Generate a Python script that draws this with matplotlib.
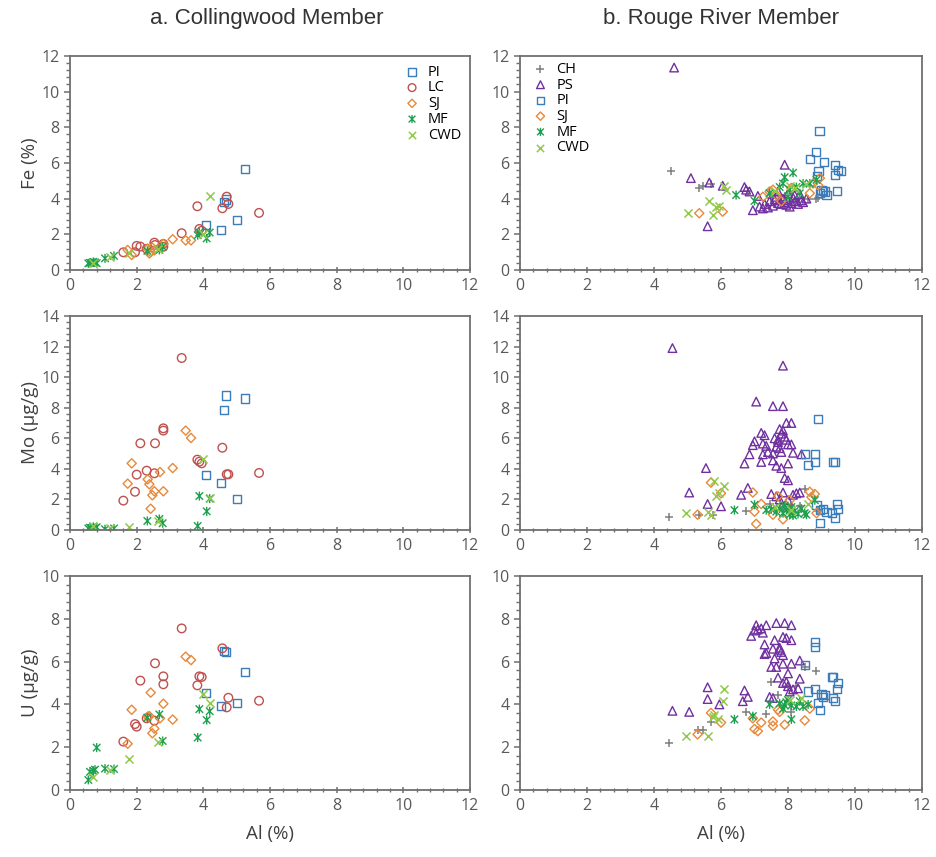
import numpy as np
import matplotlib
matplotlib.use("Agg")
import matplotlib.pyplot as plt
from matplotlib.path import Path
from matplotlib.ticker import MultipleLocator, AutoMinorLocator

plt.rcParams['font.family'] = ['Open Sans', 'DejaVu Sans']

# a. Collingwood Member: one Al value per sample, shared by the three panels
cw_pi_al = [4.07, 4.52, 4.62, 4.67, 5.0, 5.25]
cw_pi_fe = [2.5, 2.25, 3.8, 3.95, 2.8, 5.65]
cw_pi_mo = [3.6, 3.05, 7.85, 8.8, 2.0, 8.6]
cw_pi_u = [4.52, 3.94, 6.5, 6.45, 4.06, 5.51]

cw_lc_al = [1.6, 1.95, 2.0, 2.11, 2.3, 2.53, 2.55, 2.8, 2.8, 3.35, 3.82, 3.88, 3.95, 4.57, 4.7, 4.75, 5.67]
cw_lc_fe = [0.99, 0.99, 1.35, 1.31, 1.18, 1.53, 1.4, 1.46, 1.3, 2.06, 3.57, 2.3, 2.2, 3.46, 4.11, 3.7, 3.2]
cw_lc_mo = [1.92, 2.5, 3.62, 5.67, 3.88, 3.71, 5.67, 6.65, 6.5, 11.25, 4.6, 4.47, 4.36, 5.38, 3.64, 3.64, 3.73]
cw_lc_u = [2.26, 3.08, 2.96, 5.11, 3.35, 3.24, 5.92, 5.31, 4.94, 7.55, 4.89, 5.31, 5.28, 6.62, 3.86, 4.31, 4.17]

cw_sj_al = [1.73, 1.85, 2.33, 2.38, 2.42, 2.47, 2.53, 2.7, 2.8, 3.08, 3.47, 3.63]
cw_sj_fe = [1.12, 0.84, 1.2, 0.93, 1.0, 1.25, 1.1, 1.3, 1.46, 1.72, 1.66, 1.66]
cw_sj_mo = [3.03, 4.36, 3.31, 2.99, 1.39, 2.27, 2.53, 3.79, 2.53, 4.05, 6.5, 6.02]
cw_sj_u = [2.16, 3.75, 3.43, 3.45, 4.55, 2.65, 2.87, 3.35, 4.03, 3.29, 6.23, 6.07]

cw_mf_al = [0.55, 0.6, 0.7, 0.75, 0.8, 1.05, 1.32, 2.32, 2.68, 2.78, 3.83, 3.88, 4.1, 4.19]
cw_mf_fe = [0.37, 0.4, 0.45, 0.42, 0.38, 0.65, 0.79, 1.07, 1.12, 1.3, 1.95, 2.1, 1.77, 2.1]
cw_mf_mo = [0.1, 0.15, 0.2, 0.12, 0.18, 0.05, 0.1, 0.59, 0.72, 0.44, 0.26, 2.22, 1.22, 2.05]
cw_mf_u = [0.47, 0.85, 0.9, 0.95, 1.98, 1.0, 0.98, 3.38, 3.53, 2.29, 2.45, 3.78, 3.27, 3.68]

cw_cwd_al = [0.7, 1.2, 1.78, 2.65, 4.0, 4.2]
cw_cwd_fe = [0.4, 0.75, 0.95, 1.15, 2.0, 4.17]
cw_cwd_mo = [0.25, 0.15, 0.18, 0.6, 4.62, 2.1]
cw_cwd_u = [0.6, 0.95, 1.43, 2.26, 4.5, 4.05]

# b. Rouge River Member: (Al, element) pairs read per panel
rr_fe_ch = [(4.5, 5.55), (5.35, 4.6), (5.45, 4.7), (5.7, 4.8), (8.85, 4.0), (8.9, 4.05), (8.2, 3.85),
            (7.9, 4.15), (8.6, 4.0), (6.8, 4.45), (7.5, 4.05)]
rr_fe_ps = [(4.6, 11.35), (5.1, 5.15), (5.65, 4.9), (6.05, 4.72), (6.7, 4.65), (6.75, 4.5), (6.85, 4.4),
            (6.95, 3.35), (5.6, 2.45), (7.9, 5.9), (7.1, 4.15), (7.15, 3.55), (7.25, 3.45), (7.3, 3.7),
            (7.4, 3.5), (7.45, 3.85), (7.55, 3.6), (7.6, 3.95), (7.65, 4.1), (7.7, 3.75), (7.75, 3.9),
            (7.8, 3.7), (7.85, 4.0), (7.9, 3.8), (7.95, 3.65), (8.0, 3.9), (8.05, 3.55), (8.1, 3.75),
            (8.15, 4.05), (8.2, 3.85), (8.3, 3.7), (8.35, 4.25), (8.4, 3.9), (8.45, 3.8), (8.55, 4.0),
            (8.2, 4.2), (7.7, 4.4), (8.0, 4.3)]
rr_fe_pi = [(8.94, 7.8), (8.84, 6.6), (8.66, 6.2), (9.08, 6.07), (8.91, 5.55), (8.86, 5.25), (9.4, 5.9),
            (9.4, 5.35), (9.5, 5.6), (9.57, 5.55), (9.45, 4.45), (9.15, 4.2), (8.96, 4.3), (9.05, 4.45),
            (9.1, 4.4), (9.0, 4.5)]
rr_fe_sj = [(5.35, 3.18), (6.05, 3.27), (7.25, 4.1), (7.55, 4.5), (7.65, 4.2), (7.8, 3.85), (8.65, 4.3),
            (8.75, 4.85), (8.9, 4.75), (8.95, 5.15), (7.45, 4.4), (8.1, 4.6)]
rr_fe_mf = [(6.45, 4.2), (7.0, 3.87), (7.45, 4.3), (7.75, 4.65), (7.85, 4.85), (7.9, 5.2), (8.05, 4.5),
            (8.15, 5.45), (8.25, 4.65), (8.35, 4.3), (8.45, 4.85), (8.65, 4.85), (8.85, 5.05), (8.0, 4.1)]
rr_fe_cwd = [(5.0, 3.2), (5.65, 3.85), (5.75, 3.1), (5.85, 3.55), (5.95, 3.6), (6.1, 4.7), (6.15, 4.5),
             (7.6, 4.4), (8.05, 4.7), (8.55, 4.8), (8.2, 4.6)]

rr_mo_ch = [(4.45, 0.85), (5.35, 1.0), (5.75, 1.0), (6.75, 1.25), (8.5, 2.65), (7.45, 1.7), (7.75, 1.7),
            (8.1, 1.55), (8.35, 1.6), (7.85, 1.3), (8.9, 1.25)]
rr_mo_ps = [(4.55, 11.9), (7.85, 10.75), (7.05, 8.4), (7.55, 8.1), (7.85, 8.1), (7.95, 7.0), (8.1, 7.0),
            (7.0, 5.8), (7.2, 6.35), (7.3, 6.2), (6.95, 5.55), (7.25, 5.65), (7.4, 5.1), (7.25, 4.95),
            (6.85, 4.95), (7.2, 4.45), (6.7, 4.35), (7.6, 6.0), (7.7, 5.75), (7.65, 5.45), (7.75, 6.6),
            (7.8, 6.3), (7.85, 6.5), (7.9, 6.1), (7.75, 5.35), (8.0, 5.6), (8.1, 5.6), (7.8, 5.1),
            (7.55, 5.0), (7.55, 4.55), (7.65, 4.2), (7.8, 4.05), (8.0, 4.35), (8.15, 5.05), (8.4, 4.95),
            (7.9, 3.4), (8.0, 3.25), (6.8, 2.75), (6.6, 2.3), (5.55, 4.05), (5.05, 2.45), (5.6, 1.7),
            (6.0, 1.55), (7.85, 2.45), (8.35, 2.45), (7.5, 2.35), (8.15, 2.3), (7.65, 2.2), (7.75, 2.0),
            (8.0, 1.95), (8.25, 2.4), (7.35, 5.5), (7.95, 5.9), (7.7, 5.9)]
rr_mo_pi = [(8.9, 7.25), (8.5, 4.95), (8.6, 4.25), (8.8, 4.95), (8.8, 4.45), (9.35, 4.45), (9.4, 4.45),
            (8.85, 1.65), (8.95, 0.45), (9.45, 1.7), (9.4, 0.8), (9.05, 1.4), (9.15, 1.2), (9.5, 1.4),
            (9.3, 1.1), (8.95, 1.3)]
rr_mo_sj = [(5.7, 3.1), (6.0, 2.4), (6.95, 2.45), (7.0, 1.2), (7.05, 0.4), (7.2, 1.7), (7.55, 1.0),
            (7.85, 0.7), (8.65, 2.5), (8.8, 2.35), (8.85, 1.1), (5.3, 1.0), (7.7, 2.2), (8.05, 1.95),
            (8.7, 2.15)]
rr_mo_mf = [(6.4, 1.3), (7.0, 1.65), (7.35, 1.3), (7.5, 1.35), (7.65, 1.2), (7.75, 1.4), (7.85, 1.1),
            (7.95, 1.3), (8.05, 1.0), (8.1, 1.5), (8.2, 1.25), (8.3, 1.05), (8.4, 1.4), (8.5, 1.1),
            (8.55, 1.0), (8.8, 1.95), (7.9, 1.6), (8.15, 0.95)]
rr_mo_cwd = [(4.95, 1.1), (5.6, 1.2), (5.7, 1.0), (5.85, 2.2), (5.95, 2.45), (6.1, 2.85), (5.8, 3.2),
             (7.6, 1.5), (8.1, 1.3), (8.6, 1.7)]

rr_u_ch = [(4.45, 2.2), (5.3, 2.8), (5.45, 2.8), (5.7, 3.2), (6.75, 3.65), (7.35, 3.55), (7.5, 5.05),
           (8.85, 5.55), (8.5, 5.75), (8.1, 3.65), (8.0, 4.8), (8.25, 4.85), (7.7, 4.45)]
rr_u_ps = [(4.55, 3.7), (5.05, 3.65), (5.6, 4.8), (5.6, 4.25), (5.95, 4.0), (6.7, 4.65), (6.65, 4.15),
           (6.8, 4.35), (6.9, 7.2), (7.05, 7.7), (7.1, 7.5), (7.0, 7.45), (7.2, 7.55), (7.25, 7.35),
           (7.35, 7.7), (7.65, 7.8), (7.9, 7.8), (8.1, 7.7), (7.6, 7.0), (7.85, 7.15), (7.95, 7.1),
           (8.1, 7.0), (7.3, 6.8), (7.35, 6.4), (7.55, 6.6), (7.75, 6.55), (7.8, 6.45), (7.85, 6.3),
           (7.6, 6.15), (7.65, 5.75), (7.5, 5.75), (7.85, 5.9), (8.1, 5.9), (8.35, 6.05), (7.7, 5.25),
           (8.0, 5.45), (8.35, 5.2), (7.85, 5.0), (7.45, 4.35), (7.55, 4.3), (8.0, 4.85), (8.3, 4.75),
           (8.15, 4.7), (7.95, 5.05), (8.05, 4.6), (7.75, 6.65), (7.3, 6.35)]
rr_u_pi = [(8.5, 5.85), (8.8, 6.9), (8.8, 6.7), (9.35, 5.3), (9.3, 5.3), (9.5, 5.0), (9.45, 4.7),
           (9.35, 4.3), (9.4, 4.15), (8.6, 4.6), (8.8, 4.7), (9.05, 4.35), (9.0, 4.5), (9.1, 4.45),
           (8.9, 4.05), (8.95, 3.75)]
rr_u_sj = [(5.3, 2.6), (5.7, 3.6), (6.0, 3.15), (7.0, 2.85), (7.1, 2.75), (7.2, 3.15), (7.55, 3.2),
           (7.55, 3.0), (7.9, 3.05), (7.7, 3.75), (7.75, 3.65), (8.5, 3.25), (8.65, 3.8), (6.95, 3.35)]
rr_u_mf = [(6.4, 3.3), (6.95, 3.45), (7.45, 4.0), (7.75, 4.05), (7.95, 4.1), (8.1, 3.95), (8.35, 4.15),
           (8.45, 3.9), (8.1, 3.3), (7.85, 3.8), (8.0, 4.2), (8.25, 3.9), (8.6, 4.0), (7.9, 3.95)]
rr_u_cwd = [(4.95, 2.5), (5.6, 2.5), (5.75, 3.4), (5.9, 3.3), (6.1, 4.7), (6.05, 4.15), (5.8, 3.5),
            (8.05, 4.2), (8.4, 4.3)]

# Excel-style star: an x with a vertical bar through it
star = Path([(-1, -1), (1, 1), (-1, 1), (1, -1), (0, -1.2), (0, 1.2)],
            [Path.MOVETO, Path.LINETO, Path.MOVETO, Path.LINETO, Path.MOVETO, Path.LINETO])

# marker, colour per unit
styles = {
    'CH': ('+', '#7f7f7f'),
    'PS': ('^', '#7030a0'),
    'PI': ('s', '#3a7dba'),
    'LC': ('o', '#c0504d'),
    'SJ': ('D', '#e8893a'),
    'MF': (star, '#1fa050'),
    'CWD': ('x', '#92c94a'),
}
sizes = {'CH': 40, 'PS': 38, 'PI': 34, 'LC': 38, 'SJ': 22, 'MF': 42, 'CWD': 34}

ylabels = ['Fe (%)', 'Mo (\u00b5g/g)', 'U (\u00b5g/g)']
ylims = [12, 14, 10]
grey = '#595959'


def draw(ax, name, xs, ys):
    marker, color = styles[name]
    if name in ('CH', 'CWD'):
        # unfilled markers take their line colour from c
        ax.scatter(xs, ys, marker=marker, c=color, s=sizes[name], linewidths=1.1, label=name)
    else:
        ax.scatter(xs, ys, marker=marker, facecolors='none', edgecolors=color,
                   s=sizes[name], linewidths=1.0, label=name)


def style_axes(ax, ymax):
    ax.set_xlim(0, 12)
    ax.set_ylim(0, ymax)
    ax.xaxis.set_major_locator(MultipleLocator(2))
    ax.yaxis.set_major_locator(MultipleLocator(2))
    ax.xaxis.set_minor_locator(AutoMinorLocator(5))
    ax.yaxis.set_minor_locator(AutoMinorLocator(5))
    for s in ax.spines.values():
        s.set_color('#6f6f6f')
        s.set_linewidth(1.3)
    ax.tick_params(which='both', colors='#6f6f6f', labelcolor=grey, labelsize=11.5)
    ax.tick_params(axis='x', which='major', direction='inout', length=5, width=1.1)
    ax.tick_params(axis='x', which='minor', direction='inout', length=3.5, width=1.0)
    ax.tick_params(axis='y', which='major', direction='out', length=4, width=1.1)
    ax.tick_params(axis='y', which='minor', direction='out', length=3, width=1.0)


fig = plt.figure(figsize=(9.37, 8.57), dpi=100)
lefts = [0.0747, 0.555]
bottoms = [0.685, 0.3816, 0.0782]
w, h = 0.427, 0.2497

left_data = [
    ('PI', cw_pi_al, [cw_pi_fe, cw_pi_mo, cw_pi_u]),
    ('LC', cw_lc_al, [cw_lc_fe, cw_lc_mo, cw_lc_u]),
    ('SJ', cw_sj_al, [cw_sj_fe, cw_sj_mo, cw_sj_u]),
    ('MF', cw_mf_al, [cw_mf_fe, cw_mf_mo, cw_mf_u]),
    ('CWD', cw_cwd_al, [cw_cwd_fe, cw_cwd_mo, cw_cwd_u]),
]
right_data = [
    [('CH', rr_fe_ch), ('PS', rr_fe_ps), ('PI', rr_fe_pi), ('SJ', rr_fe_sj), ('MF', rr_fe_mf), ('CWD', rr_fe_cwd)],
    [('CH', rr_mo_ch), ('PS', rr_mo_ps), ('PI', rr_mo_pi), ('SJ', rr_mo_sj), ('MF', rr_mo_mf), ('CWD', rr_mo_cwd)],
    [('CH', rr_u_ch), ('PS', rr_u_ps), ('PI', rr_u_pi), ('SJ', rr_u_sj), ('MF', rr_u_mf), ('CWD', rr_u_cwd)],
]

for row in range(3):
    axl = fig.add_axes([lefts[0], bottoms[row], w, h])
    for name, al, vals in left_data:
        draw(axl, name, al, vals[row])
    style_axes(axl, ylims[row])
    axl.set_ylabel(ylabels[row], fontsize=13.5, color='#404040', labelpad=2)

    axr = fig.add_axes([lefts[1], bottoms[row], w + 0.002, h])
    for name, pts in right_data[row]:
        pts = np.array(pts)
        draw(axr, name, pts[:, 0], pts[:, 1])
    style_axes(axr, ylims[row])

    if row == 0:
        axl.legend(loc='upper right', frameon=False, fontsize=10.5, handletextpad=0.1,
                   labelspacing=0.05, borderaxespad=0.2, markerscale=0.9)
        axr.legend(loc='upper left', frameon=False, fontsize=10.5, handletextpad=0.1,
                   labelspacing=0.05, borderaxespad=0.0, markerscale=0.9)
    if row == 2:
        axl.set_xlabel('Al (%)', fontsize=13.5, color='#404040', labelpad=8)
        axr.set_xlabel('Al (%)', fontsize=13.5, color='#404040', labelpad=8)

title_font = ['Liberation Sans Narrow', 'Liberation Sans', 'DejaVu Sans']
fig.text(0.285, 0.978, 'a. Collingwood Member', ha='center', va='center', fontsize=16,
         color='#333333', family=title_font)
fig.text(0.77, 0.978, 'b. Rouge River Member', ha='center', va='center', fontsize=16,
         color='#333333', family=title_font)

fig.savefig('out.png', dpi=100)
